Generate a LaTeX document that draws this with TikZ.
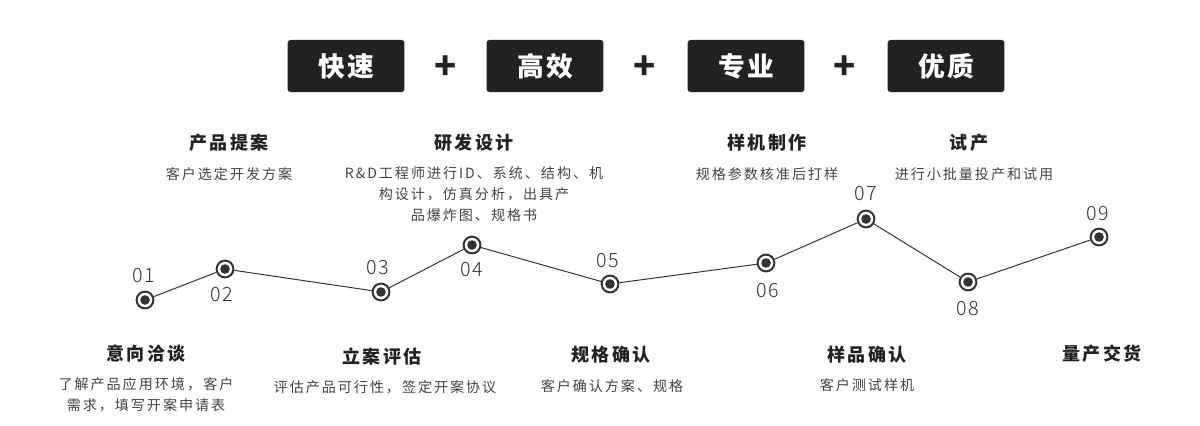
\documentclass[tikz,border=0pt]{standalone}
\usepackage{fontspec}
\usepackage{tikz}
\usetikzlibrary{positioning}
\setmainfont{Noto Sans CJK SC}
\newfontfamily\cjkbox[LetterSpace=8]{Noto Sans CJK SC}
\newfontfamily\cjktitle[LetterSpace=12]{Noto Sans CJK SC}
\newfontfamily\cjksub[LetterSpace=14]{Noto Sans CJK SC}
\newfontfamily\numfont[LetterSpace=8]{Noto Sans CJK SC Light}
\definecolor{boxdark}{HTML}{222222}
\definecolor{ink}{HTML}{333333}
\definecolor{subgray}{HTML}{444444}

\begin{document}
\begin{tikzpicture}[x=0.025cm,y=-0.025cm,
    tag/.style={rectangle,fill=boxdark,rounded corners=2pt,
                minimum width=2.92cm,minimum height=1.3cm,inner sep=0pt,
                text=white,font=\cjkbox\fontsize{19}{22}\selectfont\bfseries},
    plus/.style={font=\fontsize{26}{26}\selectfont\bfseries,text=boxdark,inner sep=0pt},
    dot/.style={circle,draw=ink,line width=1.4pt,fill=white,
                minimum size=0.42cm,inner sep=0pt,
                path picture={\fill[ink] (path picture bounding box.center) circle (0.12cm);}},
    num/.style={font=\numfont\fontsize{14}{15}\selectfont,text=ink,inner sep=0pt},
    ttl/.style={font=\cjktitle\fontsize{12.8}{15}\selectfont\bfseries,text=boxdark,inner sep=0pt},
    sub/.style={font=\cjksub\fontsize{10}{15}\selectfont,text=subgray,align=center,inner sep=0pt}
  ]
    \useasboundingbox[fill=white] (0,0) rectangle (1200,426);
    % keywords
    \node[tag] (k1) at (346,66) {快速};
    \node[tag] (k2) at (545,66) {高效};
    \node[tag] (k3) at (746,66) {专业};
    \node[tag] (k4) at (946,66) {优质};
    \node[plus] (s1) at (446,68) {+};
    \node[plus] (s2) at (645,68) {+};
    \node[plus] (s3) at (845,68) {+};
    % timeline
    \node[dot] (p1) at (145,300) {};
    \node[dot] (p2) at (225,269) {};
    \node[dot] (p3) at (381,292) {};
    \node[dot] (p4) at (472,245) {};
    \node[dot] (p5) at (610,284) {};
    \node[dot] (p6) at (766,263) {};
    \node[dot] (p7) at (866,219) {};
    \node[dot] (p8) at (968,282) {};
    \node[dot] (p9) at (1099,237) {};
    \draw[ink,line width=0.7pt] (p1)--(p2)--(p3)--(p4)--(p5)--(p6)--(p7)--(p8)--(p9);
    \node[num] (n1) at (144,276) {01};
    \node[num] (n2) at (222,295) {02};
    \node[num] (n3) at (378,268) {03};
    \node[num] (n4) at (472,270) {04};
    \node[num] (n5) at (608,261) {05};
    \node[num] (n6) at (768,291) {06};
    \node[num] (n7) at (866,194) {07};
    \node[num] (n8) at (968,309) {08};
    \node[num] (n9) at (1098,214) {09};
    % steps above
    \node[ttl] (t2) at (229,143) {产品提案};
    \node[sub] (d2) at (229,174) {客户选定开发方案};
    \node[ttl] (t4) at (474,143) {研发设计};
    \node[sub,anchor=north] (d4) at (474,166) {R\&D工程师进行ID、系统、结构、机\\
      构设计，仿真分析，出具产\\品爆炸图、规格书};
    \node[ttl] (t6) at (767,143) {样机制作};
    \node[sub] (d6) at (767,174) {规格参数核准后打样};
    \node[ttl] (t8) at (969,143) {试产};
    \node[sub] (d8) at (974,174) {进行小批量投产和试用};
    % steps below
    \node[ttl] (t1) at (146,354) {意向洽谈};
    \node[sub,anchor=north] (d1) at (146,377) {了解产品应用环境\,，客户\\需求，填写开案申请表};
    \node[ttl] (t3) at (382,357) {立案评估};
    \node[sub] (d3) at (385,387) {评估产品可行性，签定开案协议};
    \node[ttl] (t5) at (611,355) {规格确认};
    \node[sub] (d5) at (612,386) {客户确认方案、规格};
    \node[ttl] (t7) at (867,355) {样品确认};
    \node[sub] (d7) at (867,385) {客户测试样机};
    \node[ttl] (t9) at (1102,354) {量产交货};
  \end{tikzpicture}
\end{document}
